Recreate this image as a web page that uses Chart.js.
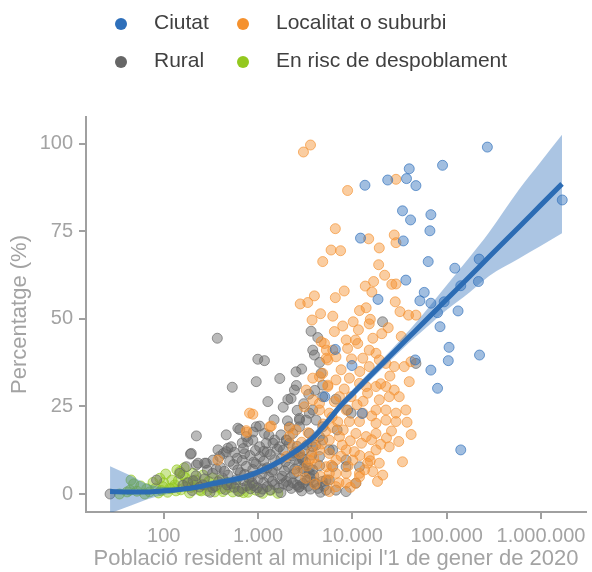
<!DOCTYPE html>
<html>
<head>
<meta charset="utf-8">
<script src="https://cdn.jsdelivr.net/npm/chart.js@4.4.1/dist/chart.umd.min.js"></script>
<style>
  body { margin: 0; background: #fff; }
  canvas { display: block; }
</style>
</head>
<body>
<canvas id="scatterChart" width="592" height="572"></canvas>
<script>
const categories = ['Ciutat', 'Localitat o suburbi', 'Rural', 'En risc de despoblament'];
const colors = ['#2e6fba', '#f5912e', '#666666', '#93c81f'];

// [població, percentatge]
const ciutat = [
  [270000, 99.1], [90400, 93.9], [40100, 92.9], [37500, 90.1], [47200, 88.1],
  [23700, 89.7], [13600, 88.2], [1680000, 84.0], [34000, 80.9], [41400, 78.3],
  [68000, 79.8], [66400, 75.2], [12200, 73.1], [34700, 72.3], [63700, 66.4],
  [122000, 64.5], [221000, 67.1], [217000, 60.7], [141000, 59.5], [36900, 61.1],
  [57800, 57.6], [52000, 55.2], [68000, 54.5], [94000, 54.9], [80000, 51.8],
  [132000, 52.3], [18700, 55.6], [85000, 47.8], [106000, 41.9], [104000, 38.1],
  [223000, 39.7], [68000, 35.4], [80000, 30.2], [141000, 12.6], [46400, 38.3],
  [6600, 41.3], [9900, 36.7], [12700, 23.0], [5100, 27.8]
];

const localitat = [
  [3030, 97.7], [3600, 99.7], [29000, 89.9], [8900, 86.7], [6600, 75.8],
  [5950, 69.7], [7500, 69.5], [4850, 66.4], [14900, 72.9], [19300, 70.3],
  [27800, 74.0], [29000, 71.8], [13700, 59.4], [16800, 60.7], [16100, 57.7],
  [26200, 59.9], [29000, 60.0], [6600, 56.1], [2800, 54.3], [3370, 54.7],
  [3960, 56.6], [3740, 49.7], [28500, 54.9], [32000, 52.1], [39400, 51.1],
  [47200, 51.1], [11900, 52.4], [14000, 53.2], [15500, 49.9], [15100, 48.6],
  [6450, 46.4], [7900, 48.0], [10200, 49.2], [11600, 46.9], [10800, 44.0],
  [8600, 44.0], [8900, 41.6], [11400, 43.0], [5300, 41.1], [4670, 43.5],
  [5500, 38.3], [15100, 41.1], [17800, 40.2], [19300, 38.3], [22700, 37.3],
  [27800, 36.4], [12900, 38.8], [15100, 36.4], [35500, 36.4], [41800, 37.8],
  [3800, 33.1], [4850, 34.5], [6700, 32.6], [9300, 33.1], [11900, 31.6],
  [14000, 30.7], [17800, 30.7], [22700, 30.7], [27800, 29.7], [40100, 32.1],
  [3240, 29.7], [5500, 30.7], [7300, 27.8], [9700, 27.8], [14500, 28.8],
  [19300, 26.9], [24600, 27.8], [31400, 27.8], [3100, 24.9], [4480, 24.0],
  [5700, 23.1], [8600, 24.0], [12900, 23.1], [17800, 24.0], [22700, 24.0],
  [29000, 23.1], [36900, 24.0], [9300, 20.7], [11900, 20.7], [17800, 20.2],
  [22700, 21.1], [29000, 20.7], [10900, 17.3], [14000, 16.4], [17800, 17.3],
  [24600, 13.5], [17800, 12.6], [15100, 10.7], [19300, 8.8], [34000, 9.2],
  [21000, 5.4], [11900, 5.9], [14500, 8.8], [4480, 25.9], [3800, 26.9],
  [6450, 26.4], [5700, 15.4], [7300, 16.4], [8600, 12.6], [10100, 9.7],
  [6700, 9.7], [5700, 5.9], [8600, 5.9], [10900, 3.1], [5060, 43.0],
  [6200, 41.1], [5300, 38.8], [6700, 39.2], [4480, 33.5], [5500, 31.1],
  [881, 22.8], [1380, 19.4], [750, 18.1], [2150, 16.4], [2530, 18.3],
  [2340, 13.5], [2750, 11.6], [1990, 10.7], [3800, 15.4], [4480, 12.6],
  [5700, 11.6], [3500, 9.7], [5300, 7.8], [6700, 5.9], [5500, 4.0],
  [6700, 2.1], [376, 9.7], [813, 23.1], [1330, 19.2], [760, 17.6],
  [2150, 18.8], [15500, 9.5], [11900, 4.9], [8600, 3.1], [5700, 0.7],
  [2600, 6.5], [3200, 4.5], [4000, 2.8], [4600, 5.0], [3700, 12.0],
  [4200, 8.5], [2900, 14.8], [3400, 17.5], [4900, 20.0], [6200, 19.0],
  [7800, 14.0], [9000, 8.0], [12500, 14.5], [16000, 15.5], [20000, 14.2],
  [23000, 16.0], [26000, 18.0], [31000, 15.0], [38000, 20.5], [42000, 17.0],
  [3300, 8.0], [3900, 10.3], [4700, 14.3], [5200, 17.9], [6100, 22.0],
  [7000, 20.6], [8000, 18.3], [9500, 15.2], [10500, 12.1], [12000, 11.0],
  [13500, 6.9], [16500, 6.4], [18500, 3.6], [7200, 3.2], [9500, 1.9],
  [6000, 8.2], [7600, 10.8], [11200, 25.5], [13000, 26.5], [16000, 22.3],
  [20000, 31.5], [25000, 33.7], [8200, 30.0], [7600, 35.5], [9800, 38.6],
  [12000, 35.0], [16500, 44.5], [20500, 45.8], [24000, 47.5], [6200, 50.8],
  [4600, 51.5], [8200, 58.0], [22000, 62.5], [19000, 65.5], [33000, 45.0]
];

const rural = [
  [370, 44.5], [995, 38.5], [1170, 38.1], [533, 30.5], [957, 32.1],
  [1270, 26.4], [2530, 34.9], [2430, 29.7], [2070, 27.0], [2240, 27.3],
  [4300, 44.7], [3800, 41.1], [3960, 39.7], [4670, 34.5], [4850, 31.1],
  [222, 16.6], [460, 16.9], [611, 18.8], [957, 19.2], [1040, 19.4],
  [192, 11.4], [174, 7.8], [222, 8.3], [272, 8.8], [520, 13.5],
  [460, 12.1], [392, 10.7], [333, 9.7], [750, 16.4], [881, 15.4],
  [1170, 17.3], [1040, 13.5], [1440, 14.5], [1690, 13.5], [1990, 15.4],
  [2340, 17.3], [2750, 19.2], [3240, 21.1], [3500, 23.1], [196, 11.6],
  [283, 8.8], [376, 12.6], [479, 13.1], [640, 18.4], [780, 15.0],
  [1220, 14.5], [1500, 15.4], [2150, 14.5], [2530, 12.1], [2980, 9.7],
  [3800, 13.5], [4480, 16.4], [4850, 19.2], [4130, 21.1], [5700, 12.6],
  [6200, 7.8], [5270, 4.0], [6700, 1.1], [8580, 9.7], [2550, 31.0],
  [3800, 24.0], [2750, 21.6], [27, 0.0], [84, 4.0], [148, 5.9],
  [231, 8.8], [20900, 49.2], [47200, 37.3], [8900, 24.0], [6700, 27.1],
  [4850, 27.8], [2750, 21.1], [2150, 19.2], [3500, 17.3], [4850, 15.4],
  [6900, 18.3], [9700, 23.1], [2000, 15.4], [2750, 11.6], [4480, 10.7],
  [6200, 12.6], [8580, 7.8], [11900, 7.8], [3500, 5.9], [5700, 4.0],
  [10900, 3.1], [5270, 1.1], [8580, 0.7], [2750, 2.1],
  [200, 1.0], [310, 0.5], [450, 1.3], [620, 0.8], [830, 1.5], [1050, 0.6],
  [1350, 1.2], [1750, 0.4], [2250, 1.6], [2900, 0.9], [3600, 1.4], [4600, 0.5],
  [180, 3.2], [260, 2.6], [380, 3.5], [520, 2.9], [700, 3.8], [900, 2.4],
  [1150, 3.3], [1500, 2.7], [2000, 3.6], [2600, 2.5], [3300, 3.9], [4200, 2.8],
  [220, 5.2], [330, 5.9], [480, 5.4], [650, 6.1], [850, 5.0], [1100, 5.7],
  [1400, 6.3], [1800, 5.1], [2400, 5.8], [3100, 6.4], [3900, 5.3],
  [400, 7.6], [550, 8.4], [750, 7.9], [950, 8.6], [1250, 7.5],
  [1600, 8.2], [2100, 7.7], [2700, 8.5], [3500, 7.4], [4500, 8.1],
  [600, 10.2], [820, 11.0], [1050, 10.6], [1350, 11.3], [1750, 10.1],
  [2300, 10.9], [2900, 10.4], [3700, 11.1],
  [700, 13.0], [1150, 12.2], [1600, 12.8], [2600, 13.6], [3100, 12.6],
  [240, 2.0], [350, 2.2], [560, 1.9], [760, 2.3], [980, 1.8], [1250, 2.1],
  [1650, 1.7], [2100, 2.4], [2700, 1.9], [3400, 2.2], [4300, 1.6],
  [270, 4.3], [420, 4.6], [590, 4.1], [800, 4.5], [1000, 4.2], [1300, 4.8],
  [1700, 4.4], [2200, 4.7], [2800, 4.0], [3600, 4.5], [4800, 3.6],
  [500, 9.3], [680, 9.6], [900, 9.1], [1150, 9.4], [1500, 9.8],
  [1950, 9.2], [2500, 9.9], [3200, 9.0],
  [160, 2.5], [205, 3.8], [290, 6.8], [360, 7.1], [440, 6.5], [610, 6.9],
  [720, 5.6], [880, 7.0], [1120, 7.2], [1450, 6.8], [1900, 6.6], [2450, 7.1],
  [3000, 7.3], [3800, 6.9], [330, 1.8], [470, 2.6], [680, 1.6], [870, 3.1],
  [1120, 1.4], [1420, 3.6], [1850, 2.9], [2350, 3.2], [3000, 3.0], [3900, 3.4],
  [5000, 2.2], [430, 11.6], [560, 11.9], [720, 11.5], [940, 12.4], [1250, 12.0],
  [1850, 12.5], [2400, 11.7], [3300, 14.0], [4100, 13.9], [680, 14.6], [890, 17.7],
  [1300, 16.8], [1750, 16.9], [2050, 20.9], [2600, 23.9], [3050, 25.8], [3450, 28.5],
  [4000, 29.6], [4500, 37.6], [1480, 21.2], [1850, 24.8], [3650, 46.5], [2900, 35.7],
  [1700, 33.0]
];

const risc = [
  [45, 4.0], [44, 1.1], [57, 2.3], [71, 0.6], [82, 1.7], [91, 4.5],
  [98, 2.1], [116, 1.6], [131, 2.6], [148, 6.4], [165, 7.5], [160, 5.4],
  [188, 0.3], [204, 5.9], [218, 4.0], [261, 5.4], [278, 2.6], [307, 2.1],
  [330, 4.6], [392, 4.0], [424, 0.7], [499, 1.9], [637, 0.7], [813, 2.6],
  [1120, 0.2], [1620, 0.2], [180, 3.4], [240, 1.1], [347, 0.6], [578, 2.9],
  [63, 0.0], [34, 0.0], [41, 0.6], [122, 4.0], [105, 5.7], [138, 6.9],
  [152, 1.2], [175, 2.1], [210, 2.4], [290, 0.9], [470, 3.3], [700, 0.4],
  [950, 1.1], [52, 0.8], [88, 0.3], [110, 0.5], [135, 0.9], [360, 2.0],
  [48, 2.9], [66, 1.5], [77, 3.3], [94, 1.0], [100, 3.2], [126, 1.8],
  [143, 3.9], [170, 4.6], [195, 1.9], [225, 3.0], [250, 0.9], [300, 3.6],
  [410, 1.5], [540, 0.6], [780, 0.5], [1350, 1.0]
];

// corba suavitzada i interval de confiança
const linePop  = [27, 45, 66, 100, 148, 230, 333, 500, 750, 1100, 1690, 2500, 3800, 5700, 7280,
                  10000, 15100, 24600, 40100, 65300, 98900, 173000, 282000, 585000, 1000000, 1670000];
const linePct  = [0.7, 0.6, 0.6, 0.9, 1.3, 2.0, 3.0, 3.9, 5.0, 6.8, 9.3, 12.2, 16.0, 21.3, 24.8,
                  28.6, 33.5, 39.2, 44.9, 50.6, 55.5, 62.0, 67.8, 76.3, 82.6, 88.6];
const bandLow  = [-5.5, -3.3, -1.6, -0.2, 0.6, 1.3, 2.1, 3.0, 4.1, 5.9, 8.4, 11.2, 15.1, 20.1, 23.6,
                  27.4, 32.2, 37.8, 43.3, 48.3, 52.5, 57.5, 62.3, 67.3, 70.9, 74.5];
const bandHigh = [7.9, 5.2, 2.9, 2.0, 2.0, 2.7, 3.9, 4.8, 5.9, 7.7, 10.2, 13.2, 17.3, 22.5, 26.0,
                  29.8, 34.8, 40.6, 46.8, 53.5, 59.5, 67.5, 74.8, 87.0, 95.0, 102.6];

const xTicks = [100, 1000, 10000, 100000, 1000000];
const yTicks = [0, 25, 50, 75, 100];

function rgba(hex, a) {
  const n = parseInt(hex.slice(1), 16);
  return 'rgba(' + (n >> 16) + ',' + ((n >> 8) & 255) + ',' + (n & 255) + ',' + a + ')';
}
function dotted(v) {
  return String(v).replace(/\B(?=(\d{3})+(?!\d))/g, '.');
}
function toXY(list) {
  return list.map(p => ({x: p[0], y: p[1]}));
}
function pointSet(i, list) {
  return {
    label: categories[i],
    data: toXY(list),
    order: i + 1,
    pointRadius: 5,
    pointHoverRadius: 5,
    borderWidth: 1,
    backgroundColor: rgba(colors[i], 0.45),
    borderColor: rgba(colors[i], 0.65)
  };
}

const AXIS = '#a0a0a0';
const TEXT = '#a3a3a3';
Chart.defaults.font.family = "'Liberation Sans', Arial, sans-serif";

// llegenda en dues files i dues columnes
const legendGrid = {
  id: 'legendGrid',
  afterDraw(chart) {
    const ctx = chart.ctx;
    const cols = [121, 243];
    const rows = [24, 62];
    ctx.save();
    ctx.font = "21px 'Liberation Sans', Arial, sans-serif";
    ctx.textBaseline = 'middle';
    ctx.textAlign = 'left';
    categories.forEach((name, i) => {
      const cx = cols[i % 2];
      const cy = rows[Math.floor(i / 2)];
      ctx.fillStyle = colors[i];
      ctx.beginPath();
      ctx.arc(cx, cy, 6, 0, Math.PI * 2);
      ctx.fill();
      ctx.fillStyle = '#404040';
      ctx.fillText(name, cx + 33, cy - 0.5);
    });
    ctx.restore();
  }
};

const ctx = document.getElementById('scatterChart').getContext('2d');
new Chart(ctx, {
  type: 'scatter',
  data: {
    datasets: [
      {
        data: linePop.map((v, i) => ({x: v, y: bandHigh[i]})),
        showLine: true, fill: '+1', order: 0,
        backgroundColor: rgba('#2e6fba', 0.4), borderWidth: 0,
        pointRadius: 0, cubicInterpolationMode: 'monotone'
      },
      {
        data: linePop.map((v, i) => ({x: v, y: bandLow[i]})),
        showLine: true, fill: false, order: 0,
        borderWidth: 0, pointRadius: 0, cubicInterpolationMode: 'monotone'
      },
      {
        data: linePop.map((v, i) => ({x: v, y: linePct[i]})),
        showLine: true, fill: false, order: -1,
        borderColor: '#2c6cb4', borderWidth: 5, pointRadius: 0,
        cubicInterpolationMode: 'monotone'
      },
      pointSet(0, ciutat),
      pointSet(1, localitat),
      pointSet(2, rural),
      pointSet(3, risc)
    ]
  },
  options: {
    responsive: false,
    animation: false,
    layout: { padding: { top: 117, right: 5, left: 0, bottom: 0 } },
    plugins: {
      legend: { display: false },
      tooltip: { enabled: false }
    },
    scales: {
      x: {
        type: 'logarithmic',
        min: 15,
        max: 3000000,
        afterBuildTicks: s => { s.ticks = xTicks.map(v => ({value: v})); },
        afterFit: s => { s.height = 60; },
        ticks: { color: TEXT, font: { size: 20 }, padding: 5, maxRotation: 0, callback: v => dotted(v) },
        grid: { drawOnChartArea: false, tickLength: 7, color: AXIS, lineWidth: 2 },
        border: { display: true, color: AXIS, width: 2 },
        title: {
          display: true, text: "Població resident al municipi l'1 de gener de 2020",
          color: TEXT, font: { size: 22 }, padding: { top: 0, bottom: 0 }
        }
      },
      y: {
        min: -5.14,
        max: 107.7,
        afterBuildTicks: s => { s.ticks = yTicks.map(v => ({value: v})); },
        afterFit: s => { s.width = 86; },
        ticks: { color: TEXT, font: { size: 20 }, padding: 6 },
        grid: { drawOnChartArea: false, tickLength: 7, color: AXIS, lineWidth: 2 },
        border: { display: true, color: AXIS, width: 2 },
        title: {
          display: true, text: 'Percentatge (%)',
          color: TEXT, font: { size: 22 }, padding: { top: 7, bottom: 0 }
        }
      }
    }
  },
  plugins: [legendGrid]
});
</script>
</body>
</html>
